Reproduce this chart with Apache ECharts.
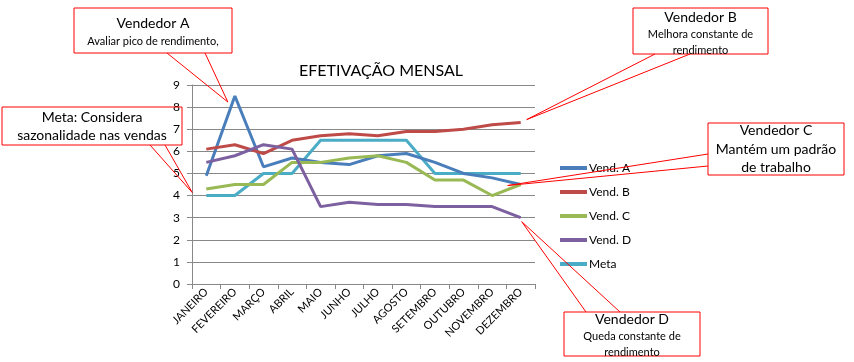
<!DOCTYPE html>
<html><head><meta charset="utf-8">
<script src="https://cdn.jsdelivr.net/npm/echarts@6/dist/echarts.min.js"></script>
<style>html,body{margin:0;padding:0;background:#fff}#c{width:854px;height:362px}</style>
</head><body><div id="c"></div>
<script>
const months = ['JANEIRO','FEVEREIRO','MARÇO','ABRIL','MAIO','JUNHO','JULHO','AGOSTO','SETEMBRO','OUTUBRO','NOVEMBRO','DEZEMBRO'];
const vendA = [4.9, 8.5, 5.3, 5.7, 5.5, 5.4, 5.8, 5.9, 5.5, 5.0, 4.8, 4.5];
const vendB = [6.1, 6.3, 5.9, 6.5, 6.7, 6.8, 6.7, 6.9, 6.9, 7.0, 7.2, 7.3];
const vendC = [4.3, 4.5, 4.5, 5.5, 5.5, 5.7, 5.8, 5.5, 4.7, 4.7, 4.0, 4.5];
const vendD = [5.5, 5.8, 6.3, 6.1, 3.5, 3.7, 3.6, 3.6, 3.5, 3.5, 3.5, 3.0];
const meta  = [4, 4, 5, 5, 6.5, 6.5, 6.5, 6.5, 5, 5, 5, 5];
const yTicks = [0,1,2,3,4,5,6,7,8,9];

const FONT = 'Lato, "Open Sans", sans-serif';
const colors = ['#4A7EBB','#BE4B48','#98B954','#7D60A0','#4BACC6'];
const names = ['Vend. A','Vend. B','Vend. C','Vend. D','Meta'];
const datas = [vendA, vendB, vendC, vendD, meta];

const chart = echarts.init(document.getElementById('c'), null, {renderer:'canvas'});
chart.setOption({
  animation:false,
  color: colors,
  title:{text:'EFETIVAÇÃO MENSAL', left:376, top:58, textAlign:'center',
    textStyle:{fontFamily:FONT, fontSize:16, fontWeight:'normal', color:'#000'}},
  legend:{orient:'vertical', left:555, top:156, itemWidth:27, itemHeight:4, itemGap:10, icon:'rect',
    textStyle:{fontFamily:FONT, fontSize:12, color:'#000', padding:[0,0,0,-3], height:14, lineHeight:14}, data:names},
  grid:{left:192, top:85, right:319, bottom:78},
  xAxis:{type:'category', data:months, boundaryGap:true,
    axisLine:{lineStyle:{color:'#888'}},
    axisTick:{show:true, alignWithLabel:false, length:5, lineStyle:{color:'#888'}},
    axisLabel:{rotate:45, fontFamily:FONT, fontSize:11, color:'#000', margin:6, interval:0}},
  yAxis:{type:'value', min:0, max:9, interval:1,
    axisLine:{show:true, lineStyle:{color:'#888'}},
    axisTick:{show:true, length:5, lineStyle:{color:'#888'}},
    splitLine:{lineStyle:{color:'#888'}},
    axisLabel:{fontFamily:FONT, fontSize:12, color:'#000', margin:12,
      formatter:v=> yTicks.includes(v) ? String(v) : ''}},
  series: datas.map((d,i)=>({name:names[i], type:'line', data:d, symbol:'none',
    lineStyle:{width:3, color:colors[i]}, z: i===4?1:2}))
});

function P(si, idx){ return chart.convertToPixel({seriesIndex:si}, [idx, datas[si][idx]]); }
function box(x,y,w,h,lines){
  const els=[{type:'rect', shape:{x,y,width:w,height:h}, style:{fill:'rgba(255,255,255,0)', stroke:'#ff0000', lineWidth:1}, z:10}];
  lines.forEach(l=>els.push({type:'text', x:x+w/2, y:l[0], z:11,
    style:{text:l[1], fontFamily:FONT, fontSize:l[2], fill:'#000', align:'center', verticalAlign:'middle'}}));
  return els;
}
function pointer(a,b,tip){
  return {type:'polyline', z:9, shape:{points:[a,tip,b]}, style:{fill:null, stroke:'#ff0000', lineWidth:1}};
}
const pA=P(0,1), pB=P(1,11), pC=P(2,11), pD=P(3,11), pM=P(4,0);
const g=[];
g.push(pointer([167,53],[205,53],[pA[0]-7,pA[1]+6]));
g.push(...box(74,8,158,45,[[23,'Vendedor A',14],[41,'Avaliar pico de rendimento,',11]]));
g.push(pointer([150,145],[165,145],[pM[0]-14,pM[1]-3]));
g.push(...box(2,107,180,38,[[117,'Meta: Considera',14],[135,'sazonalidade nas vendas',14]]));
g.push(pointer([655,54],[690,54],[pB[0]+6,pB[1]-3]));
g.push(...box(633,8,135,46,[[17,'Vendedor B',14],[34,'Melhora constante de',11],[50,'rendimento',11]]));
g.push(pointer([708,154],[708,166],[pC[0]-13,pC[1]+1]));
g.push(...box(708,123,136,52,[[130,'Vendedor C',14],[149,'Mantém um padrão',14],[167,'de trabalho',14]]));
g.push(pointer([586,312],[620,312],[pD[0]+1,pD[1]+4]));
g.push(...box(564,312,136,44,[[319,'Vendedor D',14],[336,'Queda constante de',11],[352,'rendimento',11]]));
chart.setOption({graphic:g});
</script></body></html>
